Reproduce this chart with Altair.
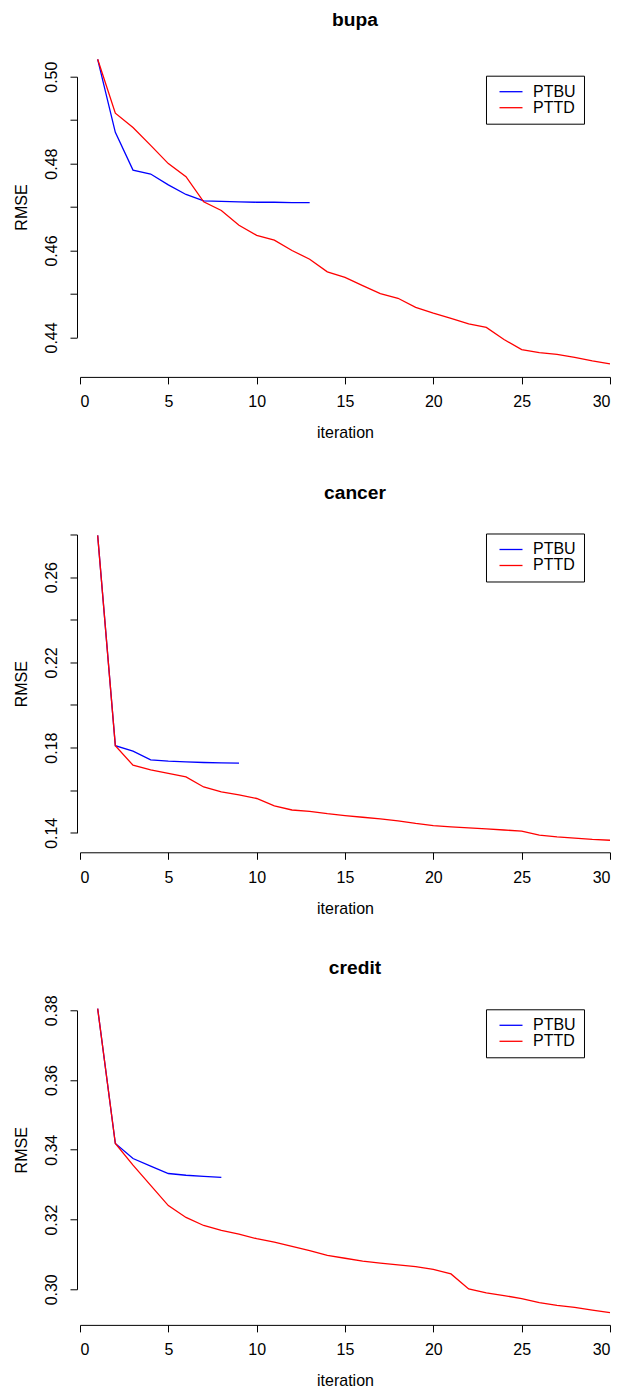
import altair as alt
import pandas as pd

# RMSE per boosting iteration for three data sets, two tree-growing strategies
series_names = ["PTBU", "PTTD"]
series_colors = ["#0000FF", "#FF0000"]

bupa_ptbu = [0.5040, 0.4872, 0.4785, 0.4776, 0.4751, 0.4729, 0.4714, 0.4713,
             0.4712, 0.4711, 0.4711, 0.4710, 0.4710]
bupa_pttd = [0.5040, 0.4916, 0.4883, 0.4842, 0.4800, 0.4770, 0.4712, 0.4692,
             0.4658, 0.4635, 0.4624, 0.4600, 0.4580, 0.4551, 0.4538, 0.4519,
             0.4501, 0.4490, 0.4469, 0.4456, 0.4444, 0.4431, 0.4423, 0.4395,
             0.4372, 0.4365, 0.4361, 0.4354, 0.4346, 0.4339]

cancer_ptbu = [0.2796, 0.1809, 0.1783, 0.1742, 0.1736, 0.1733, 0.1730, 0.1728,
               0.1727]
cancer_pttd = [0.2796, 0.1809, 0.1717, 0.1695, 0.1679, 0.1662, 0.1615, 0.1592,
               0.1578, 0.1561, 0.1526, 0.1507, 0.1501, 0.1490, 0.1481, 0.1473,
               0.1465, 0.1456, 0.1444, 0.1434, 0.1428, 0.1423, 0.1418, 0.1413,
               0.1408, 0.1389, 0.1381, 0.1375, 0.1369, 0.1365]

credit_ptbu = [0.3805, 0.3418, 0.3375, 0.3353, 0.3332, 0.3327, 0.3324, 0.3321]
credit_pttd = [0.3805, 0.3418, 0.3356, 0.3298, 0.3240, 0.3206, 0.3183, 0.3169,
               0.3158, 0.3145, 0.3135, 0.3123, 0.3111, 0.3097, 0.3089, 0.3081,
               0.3075, 0.3070, 0.3065, 0.3057, 0.3044, 0.3001, 0.2990, 0.2982,
               0.2973, 0.2962, 0.2954, 0.2948, 0.2940, 0.2933]

x_ticks = [0, 5, 10, 15, 20, 25, 30]

bupa_yticks = [0.44, 0.45, 0.46, 0.47, 0.48, 0.49, 0.50]
bupa_ylabels = ["0.44", "0.46", "0.48", "0.50"]
cancer_yticks = [0.14, 0.16, 0.18, 0.20, 0.22, 0.24, 0.26, 0.28]
cancer_ylabels = ["0.14", "0.18", "0.22", "0.26"]
credit_yticks = [0.30, 0.32, 0.34, 0.36, 0.38]
credit_ylabels = ["0.30", "0.32", "0.34", "0.36", "0.38"]

FONT = "Liberation Sans"
PLOT_W = 530


def frame(ptbu, pttd):
    rows = []
    for name, vals in zip(series_names, [ptbu, pttd]):
        for i, v in enumerate(vals, start=1):
            rows.append({"iteration": i, "RMSE": v, "method": name})
    return pd.DataFrame(rows)


def panel(title, ptbu, pttd, yticks, ylabels, height, x_offset, title_offset):
    shown = "[" + ",".join("'%s'" % s for s in ylabels) + "]"
    return (
        alt.Chart(frame(ptbu, pttd))
        .mark_line(clip=False, strokeWidth=1.3)
        .encode(
            x=alt.X(
                "iteration:Q",
                scale=alt.Scale(domain=[0, 30], nice=False, zero=False),
                axis=alt.Axis(values=x_ticks, offset=x_offset, title="iteration",
                              labelPadding=10, titlePadding=15),
            ),
            y=alt.Y(
                "RMSE:Q",
                scale=alt.Scale(domain=[yticks[0], yticks[-1]], nice=False, zero=False),
                axis=alt.Axis(values=yticks, format=".2f", offset=3, title="RMSE",
                              labelAngle=270, labelOverlap=False,
                              labelExpr="indexof(%s, datum.label) >= 0 ? datum.label : ''" % shown,
                              labelPadding=11, titlePadding=14),
            ),
            color=alt.Color(
                "method:N",
                scale=alt.Scale(domain=series_names, range=series_colors),
                legend=alt.Legend(
                    title=None, orient="none", legendX=406, legendY=-1,
                    symbolType="M-0.435,0L3.568,0", symbolSize=132,
                    symbolStrokeWidth=1.3,
                    labelFont=FONT, labelFontSize=16, labelColor="black",
                    strokeColor="black", fillColor="white", padding=8,
                    labelOffset=23, rowPadding=-1,
                ),
            ),
            order=alt.Order("iteration:Q"),
        )
        .properties(
            width=PLOT_W,
            height=height,
            title=alt.TitleParams(text=title, font=FONT, fontSize=19.2,
                                  fontWeight="bold", color="black", anchor="middle",
                                  frame="group", dx=10, offset=title_offset),
        )
    )


p1 = panel("bupa", bupa_ptbu, bupa_pttd, bupa_yticks, bupa_ylabels, 260.7, 39.5, 26.6)
p2 = panel("cancer", cancer_ptbu, cancer_pttd, cancer_yticks, cancer_ylabels, 298.3, 19.5, 30)
p3 = panel("credit", credit_ptbu, credit_pttd, credit_yticks, credit_ylabels, 279, 35.6, 17)

chart = (
    alt.vconcat(p1, p2, p3, spacing=41.8)
    .resolve_scale(color="independent")
    .resolve_legend(color="independent")
    .properties(padding={"left": 13, "top": 10.7, "right": 5, "bottom": 5},
                background="white")
    .configure_view(stroke=None)
    .configure_axis(
        labelFont=FONT, labelFontSize=16, labelColor="black",
        titleFont=FONT, titleFontSize=16, titleFontWeight="normal", titleColor="black",
        domainColor="black", tickColor="black", tickSize=7, grid=False,
        domainWidth=1, tickWidth=1,
    )
)

chart.save("out.html", embed_options={"renderer": "svg", "actions": False})
